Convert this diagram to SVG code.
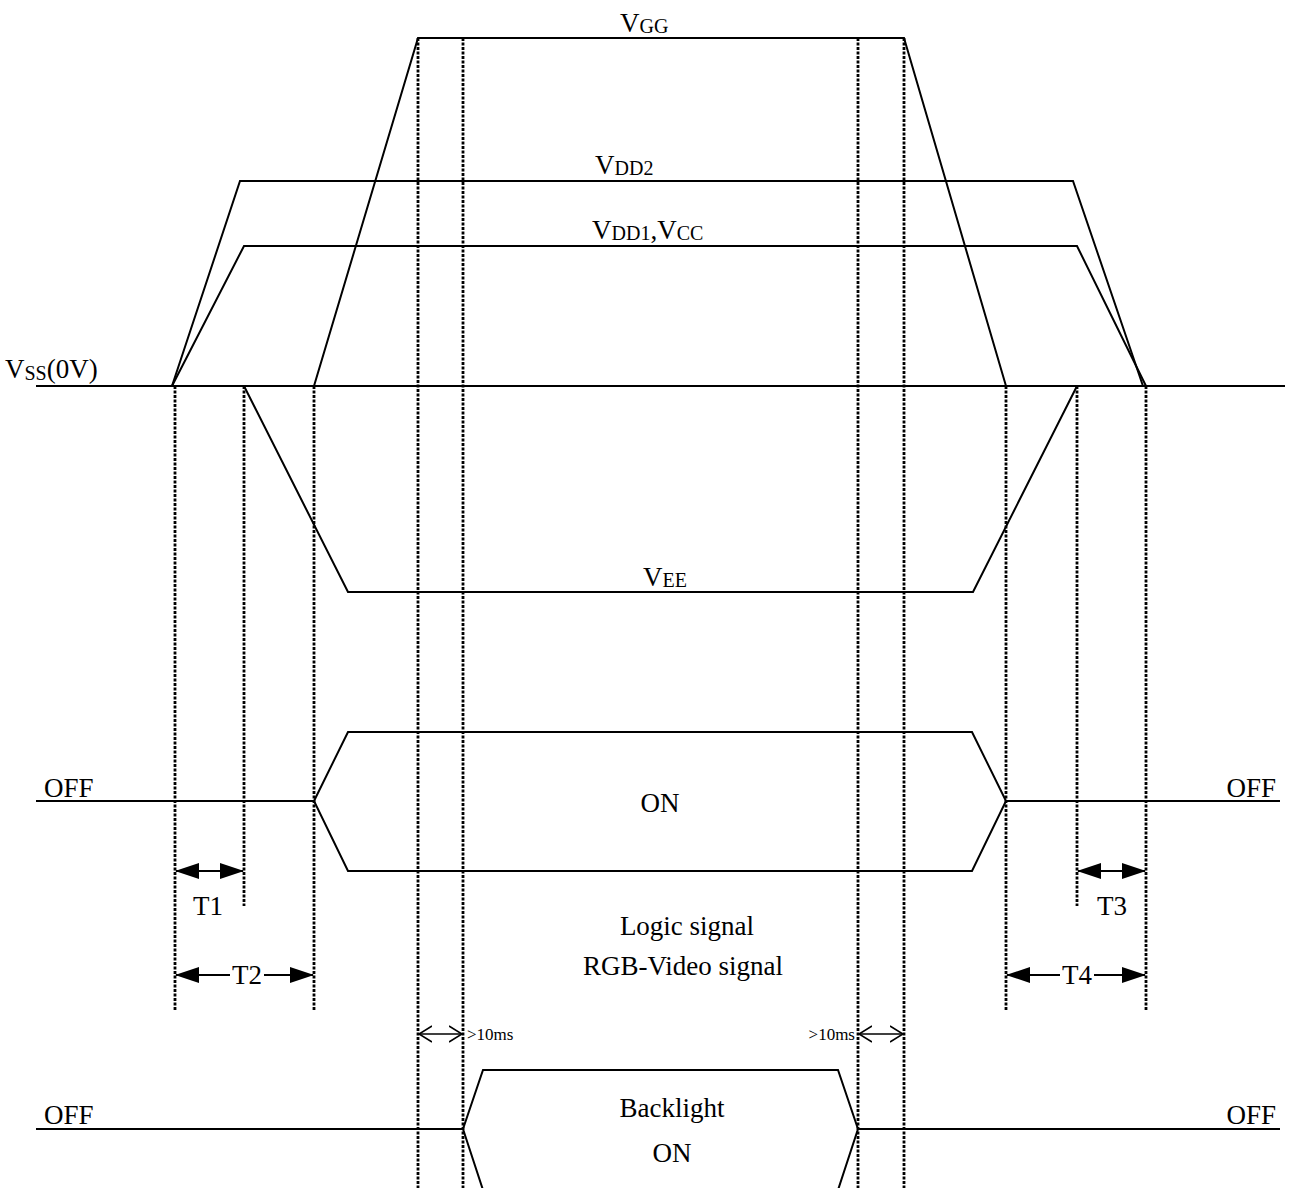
<svg xmlns="http://www.w3.org/2000/svg" width="1290" height="1188" viewBox="0 0 1290 1188">
<style>
.sig{fill:none;stroke:#000;stroke-width:2}
.dot{fill:none;stroke:#000;stroke-width:2.8;stroke-dasharray:3 1.5}
.dim{fill:none;stroke:#000;stroke-width:2}
.thin{fill:none;stroke:#000;stroke-width:1.5}
text{font-family:"Liberation Serif","Times New Roman",serif;fill:#000;font-size:27px}
.sub{font-size:20px}
.small{font-size:17px}
</style>
<defs>
<marker id="fa" viewBox="0 0 24 16" refX="23" refY="8" markerWidth="24" markerHeight="16" markerUnits="userSpaceOnUse" orient="auto-start-reverse"><path d="M0,0 L24,8 L0,16 Z" fill="#000"/></marker>
<marker id="oa" viewBox="0 0 14 18" refX="13" refY="9" markerWidth="14" markerHeight="18" markerUnits="userSpaceOnUse" orient="auto-start-reverse"><path d="M0,1 L13,9 L0,17" fill="none" stroke="#000" stroke-width="1.5"/></marker>
</defs>
<rect width="1290" height="1188" fill="#fff"/>
<g id="guides">
<line class="dot" x1="175" y1="386" x2="175" y2="1010"/>
<line class="dot" x1="244" y1="386" x2="244" y2="906"/>
<line class="dot" x1="314" y1="386" x2="314" y2="1010"/>
<line class="dot" x1="418" y1="38" x2="418" y2="1188"/>
<line class="dot" x1="463" y1="38" x2="463" y2="1188"/>
<line class="dot" x1="858" y1="38" x2="858" y2="1188"/>
<line class="dot" x1="904" y1="38" x2="904" y2="1188"/>
<line class="dot" x1="1006" y1="386" x2="1006" y2="1010"/>
<line class="dot" x1="1077" y1="386" x2="1077" y2="906"/>
<line class="dot" x1="1146" y1="386" x2="1146" y2="1010"/>
</g>
<g id="vss">
<line class="sig" x1="36" y1="386" x2="1285" y2="386"/>
<text x="5" y="378" font-size="29">V<tspan class="sub" dy="2">SS</tspan><tspan dy="-2">(0V)</tspan></text>
</g>
<g id="vgg">
<path class="sig" d="M314,386 L418,38 L904,38 L1006,386"/>
<text x="620" y="32">V<tspan class="sub" dy="1">GG</tspan></text>
</g>
<g id="vdd2">
<path class="sig" d="M172,386 L240,181 L1073,181 L1143,386"/>
<text x="595" y="174">V<tspan class="sub" dy="1">DD2</tspan></text>
</g>
<g id="vdd1">
<path class="sig" d="M172,386 L244,246 L1077,246 L1146,386"/>
<text x="592" y="239">V<tspan class="sub" dy="1">DD1</tspan><tspan dy="-1">,V</tspan><tspan class="sub" dy="1">CC</tspan></text>
</g>
<g id="vee">
<path class="sig" d="M244,386 L348,592 L973,592 L1077,386"/>
<text x="643" y="586">V<tspan class="sub" dy="1">EE</tspan></text>
</g>
<g id="logic">
<path class="sig" d="M36,801 L314,801"/>
<path class="sig" d="M314,801 L348,732 L972,732 L1006,801 L972,871 L348,871 Z"/>
<path class="sig" d="M1006,801 L1280,801"/>
<text x="44" y="797">OFF</text>
<text x="1276" y="797" text-anchor="end">OFF</text>
<text x="660" y="812" text-anchor="middle">ON</text>
<text x="687" y="935" text-anchor="middle">Logic signal</text>
<text x="683" y="975" text-anchor="middle">RGB-Video signal</text>
</g>
<g id="backlight">
<path class="sig" d="M36,1129 L463,1129"/>
<path class="sig" d="M483,1190 L463,1129 L483,1070 L838,1070 L858,1129 L838,1190"/>
<path class="sig" d="M858,1129 L1280,1129"/>
<text x="44" y="1124">OFF</text>
<text x="1276" y="1124" text-anchor="end">OFF</text>
<text x="672" y="1117" text-anchor="middle">Backlight</text>
<text x="672" y="1162" text-anchor="middle">ON</text>
</g>
<g id="connectors">
<line class="dim" x1="176" y1="871" x2="243" y2="871" marker-start="url(#fa)" marker-end="url(#fa)"/>
<line class="dim" x1="176" y1="975" x2="313" y2="975" marker-start="url(#fa)" marker-end="url(#fa)"/>
<line class="dim" x1="1078" y1="871" x2="1145" y2="871" marker-start="url(#fa)" marker-end="url(#fa)"/>
<line class="dim" x1="1007" y1="975" x2="1145" y2="975" marker-start="url(#fa)" marker-end="url(#fa)"/>
<line class="thin" x1="419" y1="1034" x2="462" y2="1034" marker-start="url(#oa)" marker-end="url(#oa)"/>
<line class="thin" x1="859" y1="1034" x2="903" y2="1034" marker-start="url(#oa)" marker-end="url(#oa)"/>
</g>
<g id="labels">
<text x="208" y="915" text-anchor="middle">T1</text>
<rect x="230" y="960" width="34" height="28" fill="#fff"/>
<text x="247" y="984" text-anchor="middle">T2</text>
<text x="1112" y="915" text-anchor="middle">T3</text>
<rect x="1060" y="960" width="34" height="28" fill="#fff"/>
<text x="1077" y="984" text-anchor="middle">T4</text>
<text class="small" x="467" y="1040">&gt;10ms</text>
<text class="small" x="855" y="1040" text-anchor="end">&gt;10ms</text>
</g>
</svg>
